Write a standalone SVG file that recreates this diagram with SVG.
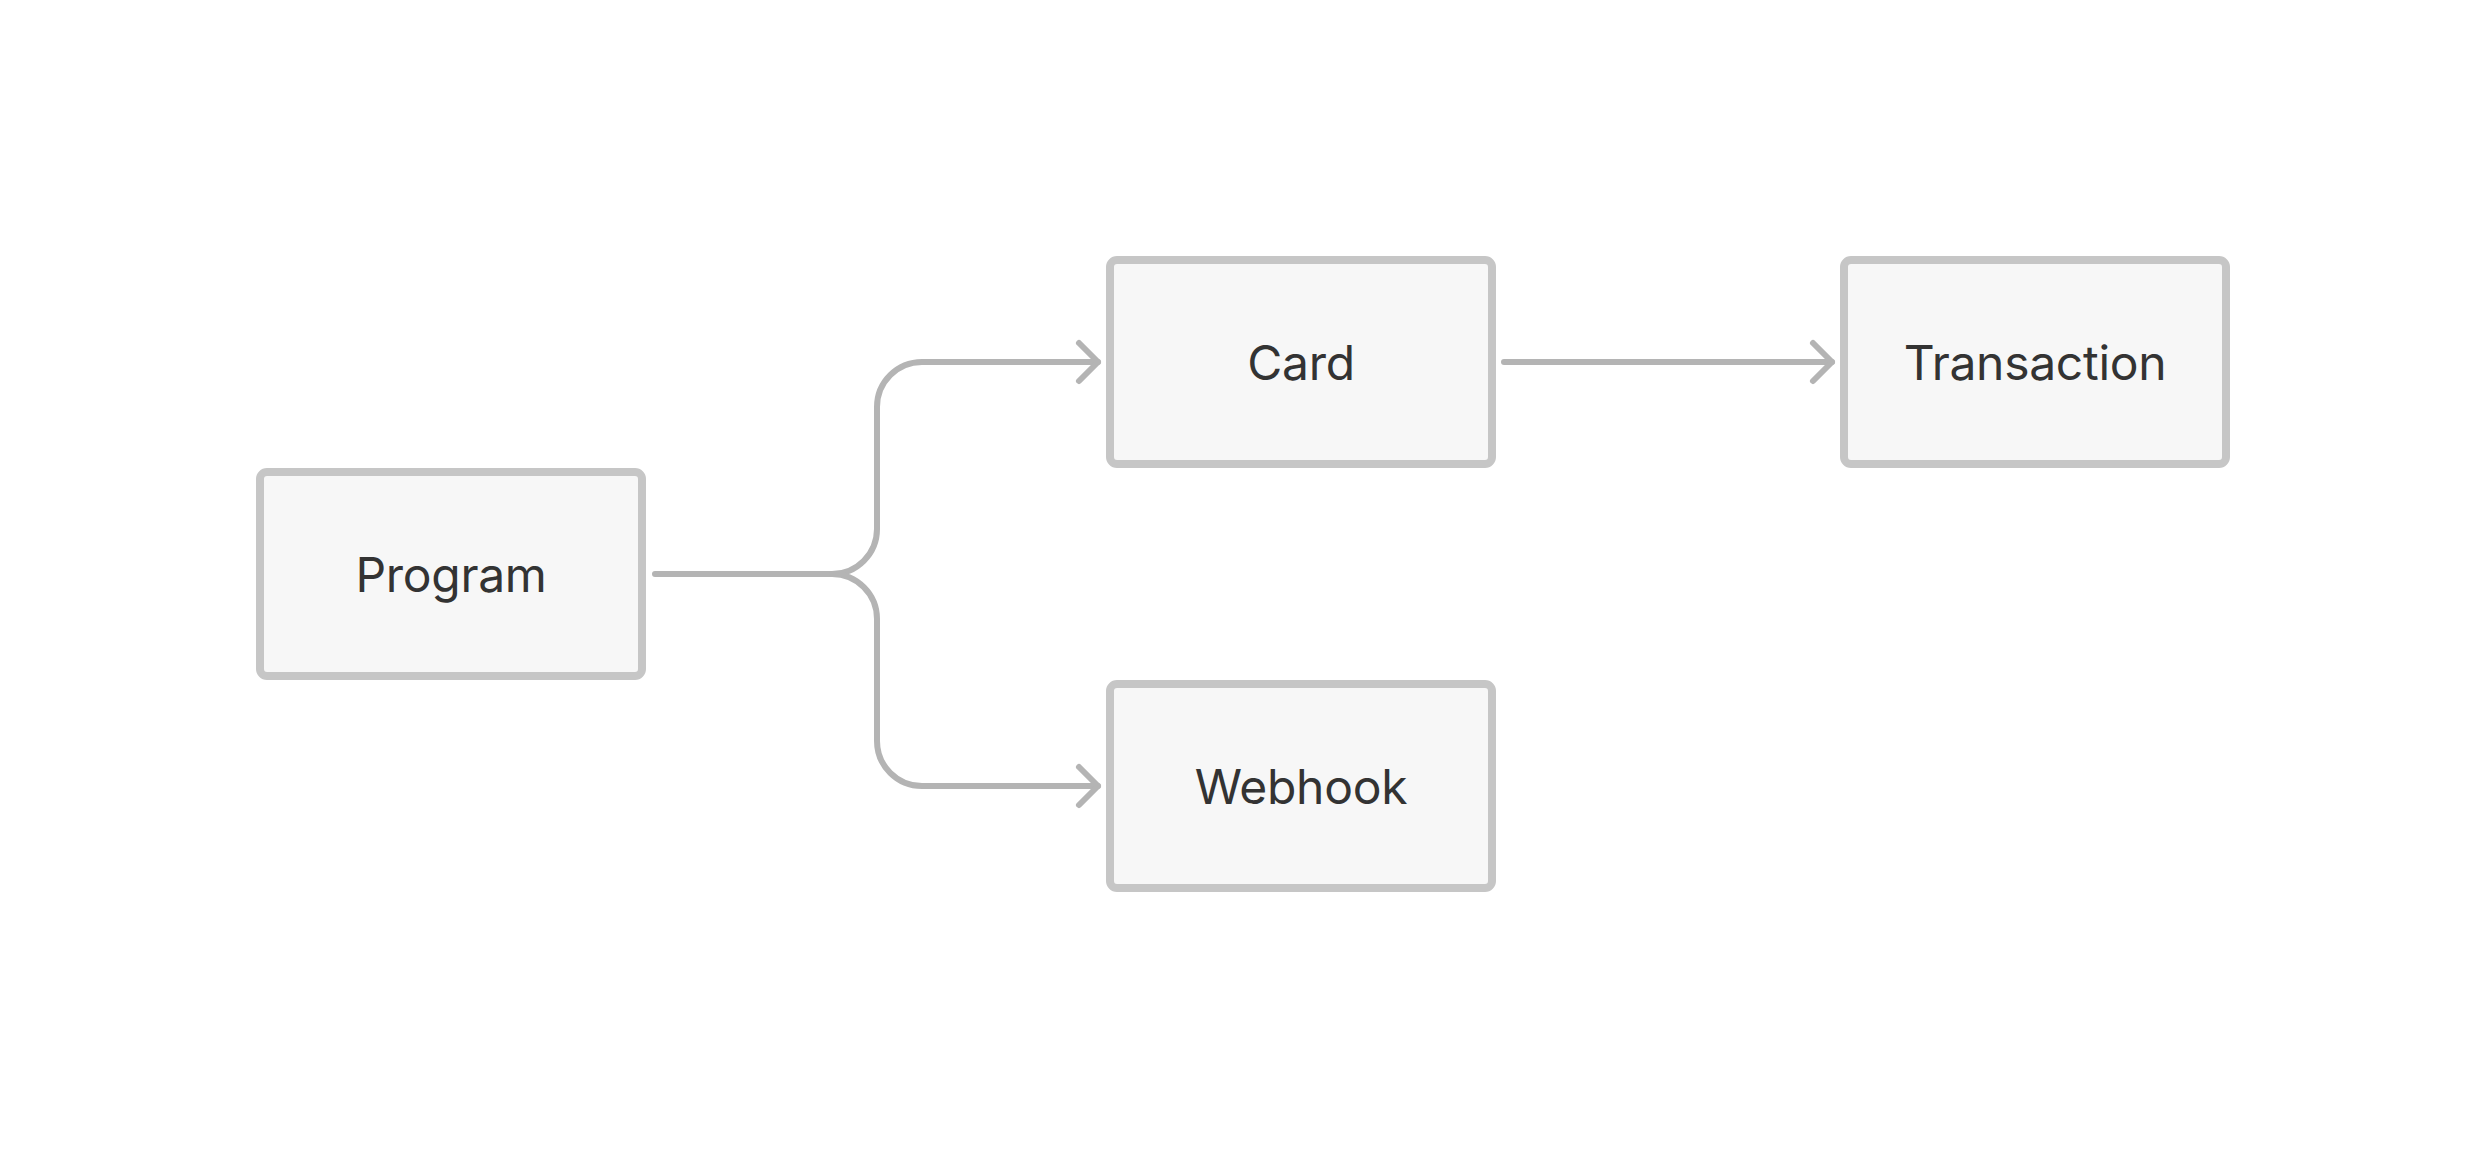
<svg xmlns="http://www.w3.org/2000/svg" width="2486" height="1149" viewBox="0 0 2486 1149">
<style>
.box{fill:#f7f7f7;stroke:#c6c6c6;stroke-width:8}
.lbl{font-family:Inter,"Liberation Sans",sans-serif;font-size:48px;fill:#333333;text-anchor:middle;letter-spacing:-0.3px}
.edge{fill:none;stroke:#b4b4b4;stroke-width:6;stroke-linecap:round;stroke-linejoin:round}
</style>
<rect width="2486" height="1149" fill="#ffffff"/>
<g id="edges">
<path class="edge" d="M655 574 H832 A45 45 0 0 0 877 529 V407 A45 45 0 0 1 922 362 H1098"/>
<polyline class="edge" points="1079,343 1098,362 1079,381"/>
<path class="edge" d="M832 574 A45 45 0 0 1 877 619 V741 A45 45 0 0 0 922 786 H1098"/>
<polyline class="edge" points="1079,767 1098,786 1079,805"/>
<path class="edge" d="M1504 362 H1832"/>
<polyline class="edge" points="1813,343 1832,362 1813,381"/>
</g>
<g id="program">
<rect class="box" x="260" y="472" width="382" height="204" rx="7"/>
<text class="lbl" x="451" y="592">Program</text>
</g>
<g id="card">
<rect class="box" x="1110" y="260" width="382" height="204" rx="7"/>
<text class="lbl" x="1301" y="380">Card</text>
</g>
<g id="webhook">
<rect class="box" x="1110" y="684" width="382" height="204" rx="7"/>
<text class="lbl" x="1301" y="804">Webhook</text>
</g>
<g id="transaction">
<rect class="box" x="1844" y="260" width="382" height="204" rx="7"/>
<text class="lbl" x="2035" y="380">Transaction</text>
</g>
</svg>
